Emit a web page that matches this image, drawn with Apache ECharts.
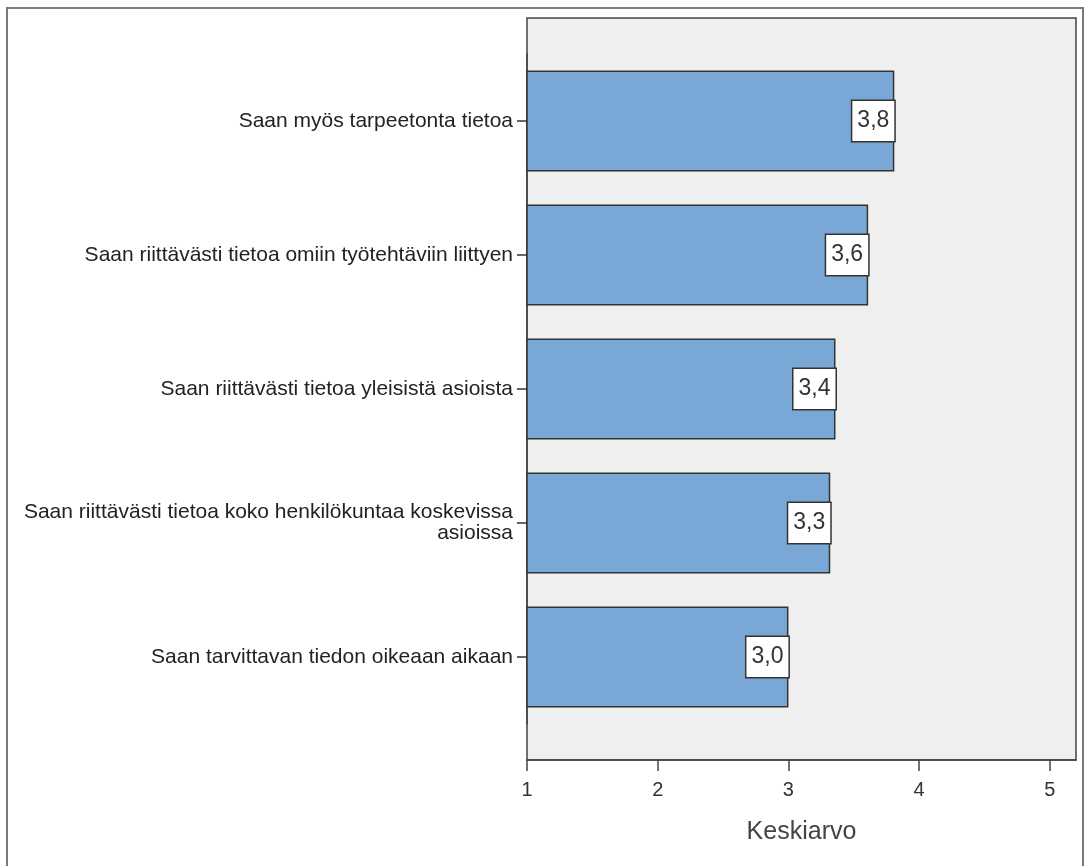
<!DOCTYPE html>
<html>
<head>
<meta charset="utf-8">
<title>Keskiarvo</title>
<script src="https://cdn.jsdelivr.net/npm/echarts@6/dist/echarts.min.js"></script>
<style>
  html, body { margin: 0; padding: 0; background: #ffffff; }
  #chart { width: 1084px; height: 866px; }
</style>
</head>
<body>
<div id="chart"></div>
<script>
// Statements, listed from top to bottom
const categories = [
  'Saan myös tarpeetonta tietoa',
  'Saan riittävästi tietoa omiin työtehtäviin liittyen',
  'Saan riittävästi tietoa yleisistä asioista',
  'Saan riittävästi tietoa koko henkilökuntaa koskevissa\nasioissa',
  'Saan tarvittavan tiedon oikeaan aikaan'
];
// Mean score of each statement
const means = [3.81, 3.61, 3.36, 3.32, 3.00];
// Scale ticks
const tickValues = [1, 2, 3, 4, 5];
const axisTitle = 'Keskiarvo';

const FONT = '"Liberation Sans", Arial, sans-serif';

const chart = echarts.init(document.getElementById('chart'), null, { renderer: 'canvas' });

const option = {
  backgroundColor: '#ffffff',
  animation: false,
  textStyle: { fontFamily: FONT },
  graphic: [
    // outer frame
    {
      type: 'rect', z: -20, silent: true,
      shape: { x: 7, y: 8, width: 1076, height: 900 },
      style: { fill: '#ffffff', stroke: '#7a7a7a', lineWidth: 2 }
    },
    // plot background and border
    {
      type: 'rect', z: -10, silent: true,
      shape: { x: 527, y: 18, width: 549, height: 742 },
      style: { fill: '#efefef', stroke: '#444444', lineWidth: 1.5 }
    }
  ],
  grid: {
    left: 527,
    right: 8,
    top: 54,
    bottom: 142,
    containLabel: false
  },
  xAxis: {
    type: 'value',
    min: 1,
    max: 5.2,
    interval: 1,
    offset: 36,
    axisLine: { show: true, lineStyle: { color: '#444444', width: 1.5 } },
    axisTick: { show: true, length: 11, customValues: tickValues, lineStyle: { color: '#444444', width: 1.5 } },
    axisLabel: {
      customValues: tickValues,
      fontSize: 20, color: '#333333', margin: 20, fontFamily: FONT
    },
    splitLine: { show: false },
    name: axisTitle,
    nameLocation: 'middle',
    nameGap: 60,
    nameTextStyle: { fontSize: 25, color: '#444444', fontFamily: FONT }
  },
  yAxis: {
    type: 'category',
    data: categories,
    inverse: true,
    axisLine: { show: true, lineStyle: { color: '#444444', width: 1.5 } },
    axisTick: { show: true, alignWithLabel: true, length: 10, lineStyle: { color: '#333333', width: 1.5 } },
    axisLabel: {
      fontSize: 21, color: '#222222', margin: 14, fontFamily: FONT,
      lineHeight: 21, align: 'right'
    },
    splitLine: { show: false }
  },
  series: [
    {
      type: 'bar',
      data: means,
      barWidth: 101,
      itemStyle: { color: '#7aa8d6', borderColor: '#333333', borderWidth: 1.5 },
      label: {
        show: true,
        position: 'insideRight',
        distance: 0,
        formatter: p => p.value.toFixed(1).replace('.', ','),
        fontSize: 23,
        fontFamily: FONT,
        color: '#333333',
        backgroundColor: '#ffffff',
        borderColor: '#333333',
        borderWidth: 1.5,
        padding: [9, 5, 8, 5]
      }
    }
  ]
};

chart.setOption(option);
</script>
</body>
</html>
